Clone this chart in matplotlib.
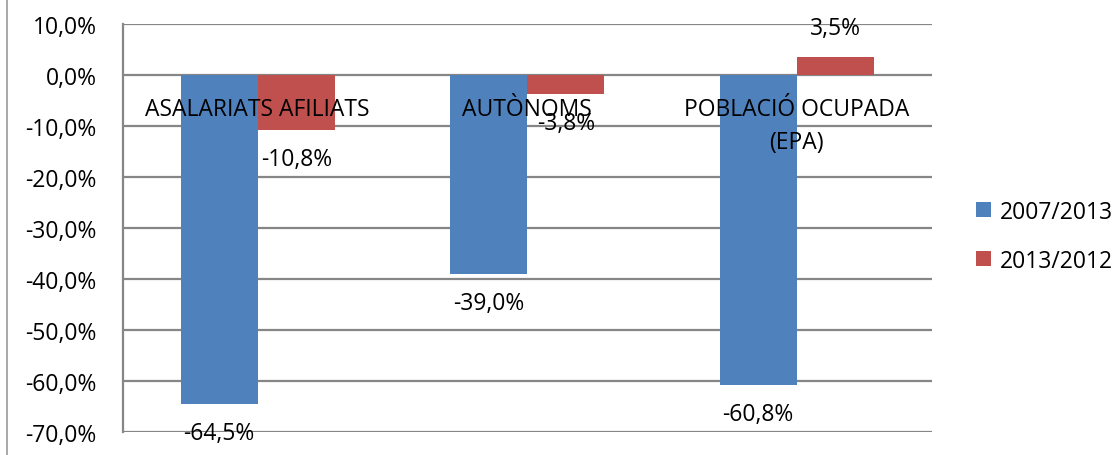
import numpy as np
import matplotlib.pyplot as plt
from matplotlib.lines import Line2D

categories = ["ASALARIATS AFILIATS", "AUTÒNOMS", "POBLACIÓ OCUPADA\n(EPA)"]
series_names = ["2007/2013", "2013/2012"]
v_2007_2013 = [-64.5, -39.0, -60.8]
v_2013_2012 = [-10.8, -3.8, 3.5]
yticks = [10, 0, -10, -20, -30, -40, -50, -60, -70]

blue = "#4F81BD"
red = "#C0504D"
grid = "#868686"
fs = 16.5

plt.rcParams['font.family'] = ['Open Sans', 'DejaVu Sans']

fig = plt.figure(figsize=(11.17, 4.56), dpi=100)
ax = fig.add_axes([0.110, 0.0504, 0.724, 0.8947])

x = np.arange(len(categories))
w = 0.286
b1 = ax.bar(x - w / 2, v_2007_2013, w, color=blue, label=series_names[0], zorder=3)
b2 = ax.bar(x + w / 2, v_2013_2012, w, color=red, label=series_names[1], zorder=3)

ax.set_xlim(-0.5, 2.5)
ax.set_ylim(-70, 10)
ax.set_yticks(yticks)
ax.set_yticklabels([f"{t:.1f}%".replace(".", ",") for t in yticks], fontsize=fs)
ax.tick_params(axis='y', length=0, pad=19)
ax.set_xticks([])
ax.yaxis.grid(True, color=grid, linewidth=1.6, zorder=0)
for s in ["top", "right", "bottom"]:
    ax.spines[s].set_visible(False)
ax.spines["left"].set_color(grid)
ax.spines["left"].set_linewidth(1.6)

# data labels outside the bar ends
for bars in (b1, b2):
    for r in bars:
        v = r.get_height()
        cx = r.get_x() + r.get_width() / 2
        off = -5.7 if v < 0 else 5.7
        ax.text(cx, v + off, f"{v:.1f}%".replace(".", ","), ha='center', va='center',
                fontsize=fs, zorder=4, clip_on=False)

# category labels just below the zero line
for i, c in enumerate(categories):
    for j, line in enumerate(c.split("\n")):
        ax.text(i, -6.6 - 6.5 * j, line, ha='center', va='center', fontsize=fs, zorder=5)

ax.legend(loc='center left', bbox_to_anchor=(1.03, 0.48), frameon=False, fontsize=fs,
          handlelength=0.65, handleheight=0.65, handletextpad=0.35, labelspacing=1.1)

fig.add_artist(Line2D([7 / 1117, 7 / 1117], [0, 1], color="#9a9a9a", linewidth=1.2))

fig.savefig("out.png", dpi=100)
